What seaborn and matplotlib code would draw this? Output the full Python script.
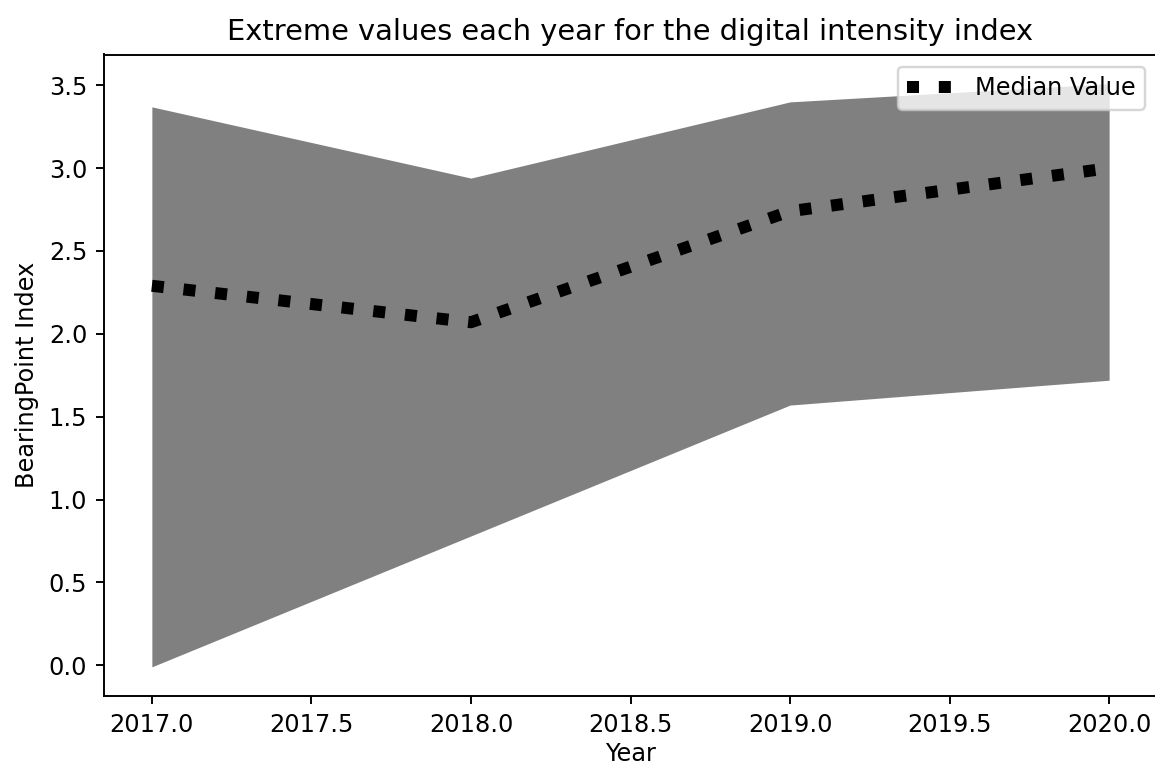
import matplotlib
matplotlib.use("Agg")
import matplotlib.pyplot as plt
import seaborn as sns
import pandas as pd

years = [2017, 2018, 2019, 2020]
min_values = [-0.01, 0.78, 1.57, 1.72]
max_values = [3.37, 2.94, 3.40, 3.51]
median_values = [2.29, 2.07, 2.74, 3.00]

df = pd.DataFrame({"Year": years, "Min": min_values, "Max": max_values, "Median": median_values})

DPI = 173
fig = plt.figure(figsize=(1155 / DPI, 765 / DPI), dpi=DPI)
ax = fig.add_axes([104 / 1155, 69 / 765, 1053 / 1155, 641.5 / 765])

ax.fill_between(df["Year"], df["Min"], df["Max"], color="grey", linewidth=0)
sns.lineplot(data=df, x="Year", y="Median", ax=ax, color="black",
             linestyle=":", linewidth=5, label="Median Value")

ax.set_title("Extreme values each year for the digital intensity index")
ax.set_xlabel("Year", labelpad=2)
ax.set_ylabel("BearingPoint Index")
ax.legend(loc="upper right")

fig.savefig("out.png", dpi=DPI)
